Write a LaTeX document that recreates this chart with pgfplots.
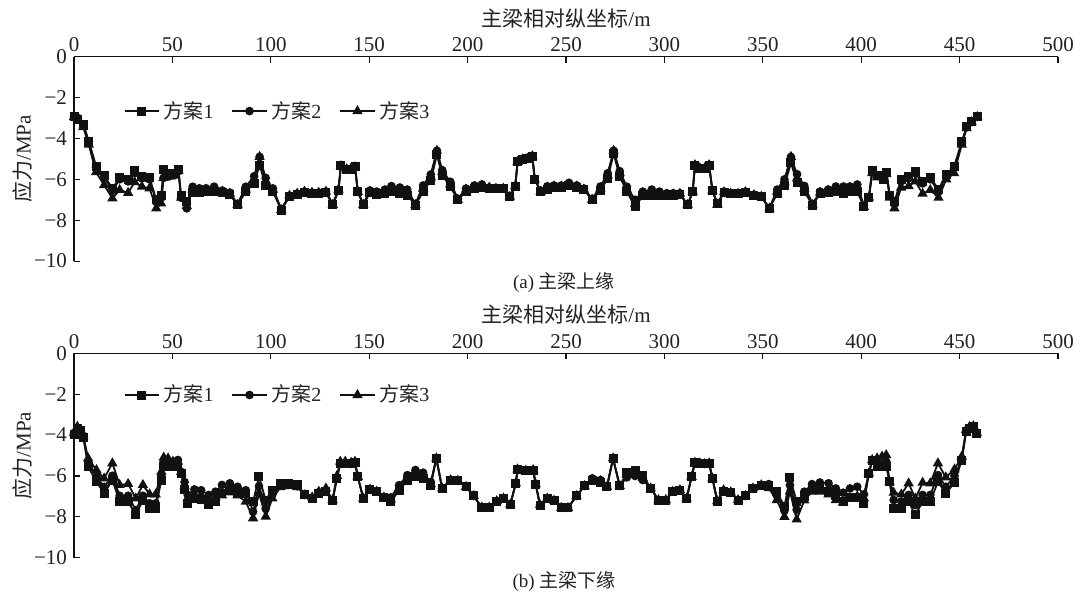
\documentclass[border=0pt]{standalone}
\usepackage{fontspec}
\setmainfont{Liberation Serif}
\newfontfamily\cjk{Noto Sans CJK SC}
\usepackage{pgfplots}
\usepackage{pgfplotstable}
\pgfplotsset{compat=1.18}

\pgfplotstableread{
x s1 s2 s3
0 -2.95 -2.95 -2.95
2 -3.05 -3.0 -3.05
4.7 -3.3 -3.3 -3.45
7.5 -4.15 -4.15 -4.3
11.2 -5.35 -5.4 -5.65
15.3 -5.82 -5.9 -6.28
19.5 -6.44 -6.55 -6.93
23.2 -5.93 -6.0 -6.52
27.5 -6.03 -6.1 -6.66
30.8 -5.59 -5.7 -6.14
34.5 -5.87 -5.95 -6.36
38.4 -5.93 -6.0 -6.44
41.8 -7.01 -7.1 -7.42
44.3 -6.77 -6.9 -7.18
45.5 -5.54 -5.93 -5.93
48.5 -5.7 -5.85 -5.85
51 -5.7 -5.8 -5.8
53.1 -5.54 -5.6 -5.6
54.4 -6.77 -6.9 -6.9
57.3 -7.1 -7.42 -7.3
60.3 -6.65 -6.36 -6.5
63.7 -6.65 -6.44 -6.55
67.1 -6.6 -6.44 -6.5
71.2 -6.6 -6.36 -6.5
75.4 -6.65 -6.55 -6.6
79.2 -6.75 -6.65 -6.7
83.1 -7.25 -7.2 -7.25
87.3 -6.6 -6.36 -6.5
91.5 -6.2 -5.85 -6.0
94.3 -5.3 -4.9 -4.9
97.4 -6.3 -5.93 -6.1
101.1 -6.6 -6.45 -6.5
105.3 -7.5 -7.45 -7.5
109.5 -6.85 -6.8 -6.8
113.4 -6.75 -6.7 -6.7
117.1 -6.65 -6.6 -6.6
120.9 -6.7 -6.65 -6.65
124.3 -6.7 -6.65 -6.65
128 -6.65 -6.6 -6.6
131.5 -7.25 -7.2 -7.25
134.4 -6.55 -6.5 -6.5
135.6 -5.3 -5.35 -5.35
138.6 -5.5 -5.5 -5.5
140.6 -5.5 -5.5 -5.5
142.8 -5.35 -5.4 -5.4
144.2 -6.6 -6.6 -6.6
147 -7.25 -7.2 -7.25
150.4 -6.65 -6.55 -6.6
153.8 -6.75 -6.6 -6.7
158 -6.7 -6.5 -6.6
161.3 -6.6 -6.33 -6.45
165.6 -6.68 -6.4 -6.55
169.3 -6.77 -6.5 -6.65
173.5 -7.26 -7.2 -7.26
177.4 -6.6 -6.3 -6.45
181.3 -6.05 -5.76 -5.9
184.4 -4.8 -4.6 -4.6
187.1 -5.8 -5.55 -5.65
191.2 -6.35 -6.12 -6.25
195 -7.0 -6.95 -7.0
199.2 -6.6 -6.45 -6.5
203.5 -6.45 -6.3 -6.4
207.3 -6.4 -6.25 -6.3
211 -6.45 -6.4 -6.4
214.4 -6.45 -6.45 -6.45
218.1 -6.45 -6.45 -6.45
221.5 -6.85 -6.85 -6.85
224.2 -6.34 -6.34 -6.34
225.4 -5.14 -5.14 -5.14
227.9 -5.03 -5.0 -5.03
230.4 -4.99 -4.95 -4.99
232.9 -4.87 -4.85 -4.87
234.1 -6.0 -6.0 -6.0
237.1 -6.6 -6.55 -6.6
240.5 -6.5 -6.34 -6.4
243.9 -6.4 -6.3 -6.35
247.6 -6.4 -6.3 -6.35
251.5 -6.3 -6.17 -6.25
255.4 -6.4 -6.3 -6.35
259.1 -6.5 -6.45 -6.5
263.3 -7.0 -6.95 -7.0
267.5 -6.55 -6.35 -6.45
271.2 -5.95 -5.7 -5.8
274.2 -4.75 -4.6 -4.6
277.3 -5.86 -5.6 -5.7
280.9 -6.6 -6.36 -6.5
285.1 -7.34 -7.0 -7.2
289 -6.8 -6.6 -6.7
293.6 -6.77 -6.5 -6.65
297.5 -6.77 -6.6 -6.7
301.2 -6.8 -6.68 -6.75
304.5 -6.8 -6.68 -6.75
307.9 -6.75 -6.68 -6.7
311.8 -7.25 -7.25 -7.25
314.4 -6.6 -6.6 -6.6
315.5 -5.3 -5.3 -5.3
318 -5.45 -5.45 -5.45
320.5 -5.45 -5.45 -5.45
322.7 -5.3 -5.3 -5.3
324.4 -6.55 -6.55 -6.55
326.9 -7.18 -7.18 -7.25
330.3 -6.63 -6.6 -6.63
333.7 -6.7 -6.7 -6.7
337.4 -6.7 -6.7 -6.7
341.2 -6.63 -6.6 -6.63
345.5 -6.77 -6.75 -6.77
349.2 -6.85 -6.85 -6.85
353.4 -7.42 -7.4 -7.42
357.3 -6.7 -6.5 -6.6
361 -6.3 -6.0 -6.15
364.3 -5.2 -4.9 -4.9
367.4 -6.15 -5.75 -5.95
371.1 -6.6 -6.32 -6.45
375.3 -7.26 -7.2 -7.26
379.1 -6.7 -6.6 -6.65
383.2 -6.63 -6.5 -6.55
387.1 -6.6 -6.35 -6.5
391 -6.7 -6.35 -6.5
394.3 -6.6 -6.35 -6.5
398 -6.6 -6.25 -6.45
401.4 -7.35 -7.3 -7.35
403.9 -6.9 -6.9 -6.9
405.6 -5.55 -5.55 -5.7
408.1 -5.8 -5.8 -5.9
411.2 -6.0 -5.8 -5.9
412.8 -5.65 -5.65 -5.75
414.5 -6.77 -6.8 -6.9
416.9 -7.1 -7.2 -7.42
420.3 -6.0 -6.1 -6.4
424.1 -5.87 -5.95 -6.33
427.5 -5.6 -5.7 -6.1
431.2 -6.1 -6.2 -6.7
435.1 -5.9 -6.0 -6.52
439.3 -6.5 -6.6 -6.9
443.2 -5.75 -5.85 -6.0
447.2 -5.38 -5.45 -5.7
451.1 -4.16 -4.2 -4.3
453.6 -3.43 -3.45 -3.5
456.1 -3.18 -3.2 -3.2
459 -2.95 -2.95 -2.95
}\topdata

\pgfplotstableread{
x s1 s2 s3
0 -3.95 -3.9 -3.9
1.7 -3.7 -3.65 -3.59
3.4 -3.8 -3.75 -3.75
4.7 -4.1 -4.05 -4.05
7.2 -5.55 -5.3 -5.14
11.4 -6.28 -6.04 -5.71
15.3 -6.85 -6.53 -6.12
19.5 -6.2 -5.99 -5.38
23.2 -7.26 -6.97 -6.44
27.5 -7.26 -6.97 -6.39
31.4 -7.91 -7.67 -7.1
35 -7.18 -6.97 -6.44
38.4 -7.59 -7.34 -6.9
41.5 -7.59 -7.34 -6.9
44.4 -6.2 -6.0 -5.79
45.6 -5.55 -5.3 -5.1
47.8 -5.55 -5.3 -5.14
50.3 -5.55 -5.3 -5.3
52.8 -5.55 -5.22 -5.3
54.5 -5.87 -5.8 -5.8
56.2 -6.66 -6.3 -6.5
57.8 -7.37 -6.93 -7.1
61.2 -7.1 -6.66 -6.9
64.6 -7.15 -6.7 -6.95
68.5 -7.42 -6.93 -7.25
71.9 -7.26 -6.77 -7.05
75.2 -6.85 -6.44 -6.95
79.2 -6.69 -6.36 -6.8
83.1 -6.82 -6.53 -6.95
87.3 -6.88 -6.7 -7.26
91 -7.26 -7.75 -8.07
94 -6.04 -6.5 -6.85
97.4 -7.18 -7.6 -7.99
100.8 -6.69 -6.9 -7.1
105 -6.36 -6.4 -6.55
109.2 -6.36 -6.4 -6.5
113.4 -6.44 -6.5 -6.55
117.3 -6.93 -6.93 -6.93
121 -7.1 -7.1 -7.05
124.4 -6.85 -6.8 -6.77
128 -6.77 -6.7 -6.61
131.4 -7.18 -7.18 -7.18
133.6 -6.12 -6.12 -6.0
135.3 -5.38 -5.38 -5.3
137.8 -5.38 -5.38 -5.3
140.8 -5.41 -5.41 -5.35
142.8 -5.35 -5.35 -5.3
144.2 -6.04 -6.04 -6.04
147 -7.1 -7.1 -7.1
150.4 -6.66 -6.66 -6.66
153.8 -6.77 -6.77 -6.77
157.5 -7.05 -7.05 -7.05
161 -7.23 -7.05 -7.15
165.2 -6.72 -6.45 -6.6
169.4 -6.2 -5.96 -6.1
173.5 -6.04 -5.71 -5.9
177.4 -6.12 -5.84 -6.0
181.3 -6.45 -6.3 -6.4
184.1 -5.14 -5.14 -5.14
187.1 -6.61 -6.61 -6.61
191.4 -6.2 -6.2 -6.2
195 -6.23 -6.23 -6.23
199.2 -6.53 -6.53 -6.53
203.1 -6.98 -6.98 -6.98
207.2 -7.54 -7.54 -7.54
211 -7.54 -7.54 -7.54
214.8 -7.23 -7.23 -7.23
218.2 -7.1 -7.1 -7.1
221.7 -7.39 -7.39 -7.39
224.5 -6.36 -6.36 -6.36
225.4 -5.68 -5.68 -5.68
229.6 -5.74 -5.74 -5.74
233.3 -5.71 -5.71 -5.71
234.6 -6.4 -6.4 -6.4
236.8 -7.43 -7.43 -7.43
240.5 -7.1 -7.1 -7.1
243.9 -7.21 -7.21 -7.21
247.6 -7.56 -7.56 -7.56
251 -7.56 -7.56 -7.56
255.3 -6.98 -6.98 -6.98
259.4 -6.49 -6.49 -6.49
263.4 -6.23 -6.12 -6.18
267.5 -6.3 -6.2 -6.25
270.8 -6.53 -6.53 -6.53
273.9 -5.14 -5.14 -5.14
277.3 -6.49 -6.49 -6.49
280.9 -5.84 -6.07 -5.95
285.1 -5.71 -6.0 -5.85
289 -5.96 -6.2 -6.1
293.1 -6.61 -6.61 -6.61
297 -7.18 -7.18 -7.18
300.7 -7.18 -7.18 -7.18
304.2 -6.77 -6.77 -6.77
307.9 -6.69 -6.69 -6.69
311.3 -7.1 -7.1 -7.1
313.8 -6.04 -6.04 -6.04
315.5 -5.35 -5.35 -5.35
318 -5.38 -5.38 -5.38
320.5 -5.41 -5.41 -5.41
322.7 -5.38 -5.38 -5.38
324.4 -6.12 -6.12 -6.12
326.9 -7.23 -7.23 -7.23
330.1 -6.74 -6.74 -6.7
333.7 -6.82 -6.82 -6.8
337.4 -7.18 -7.18 -7.18
341.2 -6.98 -6.98 -6.98
345 -6.61 -6.61 -6.61
349.2 -6.45 -6.45 -6.45
353 -6.49 -6.4 -6.6
357.1 -6.77 -6.95 -7.18
361 -7.5 -7.7 -8.0
363.8 -6.07 -6.45 -6.75
367.2 -7.26 -7.65 -8.13
371.1 -7.0 -6.77 -7.2
375 -6.61 -6.4 -6.77
379 -6.61 -6.32 -6.77
383.4 -6.77 -6.36 -6.9
387.1 -6.98 -6.61 -7.18
390.8 -7.26 -6.82 -7.3
394.3 -7.05 -6.61 -7.1
398 -7.05 -6.53 -7.0
401.4 -7.34 -6.9 -7.1
403.9 -5.87 -5.87 -5.87
405.6 -5.22 -5.22 -5.22
408.1 -5.54 -5.4 -5.14
410.6 -5.54 -5.4 -5.05
412.7 -5.54 -5.3 -4.98
414.4 -6.28 -6.28 -6.28
416.5 -7.59 -7.18 -6.82
420.4 -7.59 -7.25 -6.9
424.1 -7.26 -6.93 -6.36
427.5 -7.91 -7.43 -7.1
431.2 -7.26 -6.93 -6.33
435.1 -7.26 -6.93 -6.36
439 -6.28 -5.96 -5.38
443 -6.85 -6.53 -6.07
447.4 -6.33 -6.0 -5.68
451.1 -5.22 -5.22 -5.05
453.3 -3.83 -3.83 -3.75
455 -3.67 -3.67 -3.6
457 -3.6 -3.6 -3.56
458.7 -3.92 -3.92 -3.9
}\botdata

\definecolor{ink}{HTML}{111111}
\definecolor{txt}{HTML}{222222}

\pgfplotsset{
  myaxis/.style={
    scale only axis, width=492pt, height=102.2pt,
    xmin=0, xmax=500, ymin=-10, ymax=0,
    axis x line*=top, axis y line*=left,
    axis line style={line width=0.6pt, ink},
    xtick={0,50,100,150,200,250,300,350,400,450,500},
    xticklabels={0,50,100,150,200,250,300,350,400,450,500},
    ytick={0,-2,-4,-6,-8,-10},
    yticklabels={0,−2,−4,−6,−8,−10},
    tick align=inside, major tick length=3pt,
    tick style={line width=0.6pt, ink},
    ticklabel style={font=\fontsize{10.5}{12}\selectfont, text=txt},
    xticklabel style={yshift=-1pt},
    xlabel={{\cjk 主梁相对纵坐标}/m},
    ylabel={{\cjk 应力}/MPa},
    label style={font=\fontsize{10.5}{12}\selectfont, text=txt},
    xlabel style={yshift=-2pt},
    ylabel style={yshift=-6pt},
    clip=false,
    legend columns=3,
    legend cell align=left,
    legend style={draw=none, fill=none, inner sep=0pt, font=\fontsize{10}{12}\selectfont, text=txt,
      /tikz/every even column/.append style={column sep=7pt}},
    every axis plot/.append style={line width=0.9pt, ink},
  },
  s1/.style={mark=square*, mark size=1.8pt, mark options={solid, fill=ink, draw=ink}},
  s2/.style={mark=*, mark size=1.7pt, mark options={solid, fill=ink, draw=ink}},
  s3/.style={mark=triangle*, mark size=2.1pt, mark options={solid, fill=ink, draw=ink}},
}

\begin{document}
\begin{tikzpicture}
\path[use as bounding box] (0pt,0pt) rectangle (537.5pt,-297pt);

\begin{axis}[myaxis, at={(37pt,-28.35pt)}, anchor=north west,
  legend style={at={(0.05,0.734)}, anchor=west}]
\addplot[s1] table[x=x, y=s1] {\topdata};
\addlegendentry{{\cjk 方案}1}
\addplot[s2] table[x=x, y=s2] {\topdata};
\addlegendentry{{\cjk 方案}2}
\addplot[s3] table[x=x, y=s3] {\topdata};
\addlegendentry{{\cjk 方案}3}
\end{axis}

\begin{axis}[myaxis, at={(37pt,-176.65pt)}, anchor=north west,
  legend style={at={(0.05,0.796)}, anchor=west}]
\addplot[s1] table[x=x, y=s1] {\botdata};
\addlegendentry{{\cjk 方案}1}
\addplot[s2] table[x=x, y=s2] {\botdata};
\addlegendentry{{\cjk 方案}2}
\addplot[s3] table[x=x, y=s3] {\botdata};
\addlegendentry{{\cjk 方案}3}
\end{axis}

\node[text=txt, font=\fontsize{9.5}{11}\selectfont] at (282pt,-141.5pt) {(a) {\cjk 主梁上缘}};
\node[text=txt, font=\fontsize{9.5}{11}\selectfont] at (282pt,-291pt) {(b) {\cjk 主梁下缘}};
\end{tikzpicture}
\end{document}
